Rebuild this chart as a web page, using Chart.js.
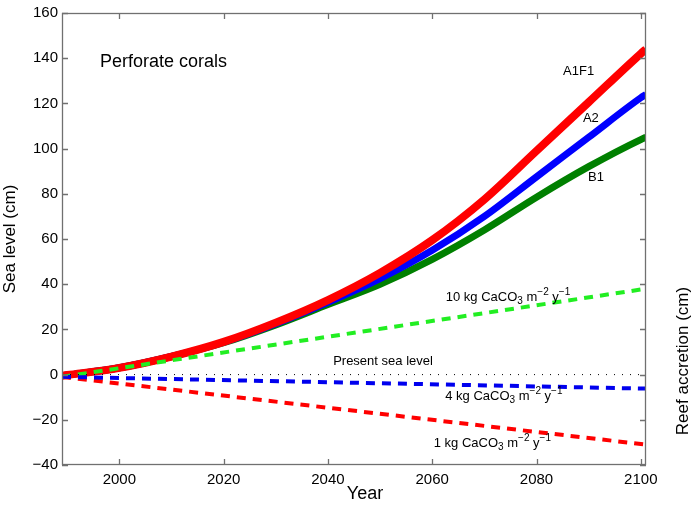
<!DOCTYPE html>
<html>
<head>
<meta charset="utf-8">
<script src="https://cdn.jsdelivr.net/npm/chart.js@4.4.1/dist/chart.umd.min.js"></script>
<style>
  html, body { margin: 0; padding: 0; background: #ffffff; }
  #wrap { width: 694px; height: 507px; }
</style>
</head>
<body>
<div id="wrap"><canvas id="c" width="694" height="507"></canvas></div>
<script>
// ---- data ----
const years      = [1989, 1990, 2000, 2010, 2020, 2030, 2040, 2050, 2060, 2070, 2080, 2090, 2100, 2101];
const seaA1F1    = [-0.5, -0.2, 3, 8, 14.5, 23, 33, 45, 59.5, 77.5, 99, 120.5, 142, 144];
const seaA2      = [-0.5, -0.2, 3, 8, 14.3, 22.5, 32, 42.5, 55, 70, 87.5, 105, 122.5, 124];
const seaB1      = [-0.5, -0.2, 3, 8, 14.1, 22, 31, 40, 51, 64, 78.5, 92, 104, 105];
const accYears   = [1989, 2101];
const acc10kg    = [-1, 38];
const acc4kg     = [-1, -6.2];
const acc1kg     = [-1, -31];
const presentSea = [0, 0];
const xTickValues = [2000, 2020, 2040, 2060, 2080, 2100];
const yTickValues = [-40, -20, 0, 20, 40, 60, 80, 100, 120, 140, 160];

const FONT = '"Liberation Sans", Arial, Helvetica, sans-serif';
const pts = (xs, ys) => xs.map((x, i) => ({ x: x, y: ys[i] }));

const framePlugin = {
  id: 'frameAndText',
  afterDatasetsDraw(chart) {
    const ctx = chart.ctx;
    const a = chart.chartArea;
    const xs = chart.scales.x, ys = chart.scales.y;
    ctx.save();
    // frame
    ctx.strokeStyle = '#707070';
    ctx.lineWidth = 1.3;
    ctx.strokeRect(a.left + 0.5, a.top + 0.5, a.right - a.left - 1, a.bottom - a.top - 1);
    // inner ticks
    const tl = 6;
    ctx.beginPath();
    xTickValues.forEach(v => {
      const px = Math.round(xs.getPixelForValue(v)) + 0.5;
      ctx.moveTo(px, a.bottom); ctx.lineTo(px, a.bottom - tl);
      ctx.moveTo(px, a.top); ctx.lineTo(px, a.top + tl);
    });
    yTickValues.forEach(v => {
      const py = Math.round(ys.getPixelForValue(v)) + 0.5;
      ctx.moveTo(a.left, py); ctx.lineTo(a.left + tl, py);
      ctx.moveTo(a.right, py); ctx.lineTo(a.right - tl, py);
    });
    ctx.stroke();

    // annotations
    ctx.fillStyle = '#000';
    ctx.textBaseline = 'middle';
    ctx.textAlign = 'left';
    const P = (x, y) => [xs.getPixelForValue(x), ys.getPixelForValue(y)];
    const simple = (txt, x, y, size) => {
      const p = P(x, y);
      ctx.font = size + 'px ' + FONT;
      ctx.fillText(txt, p[0], p[1]);
    };
    simple('Perforate corals', 1996.3, 138.3, 18);
    simple('A1F1', 2085.1, 134, 13);
    simple('A2', 2088.9, 113.5, 13);
    simple('B1', 2089.9, 87.4, 13);
    simple('Present sea level', 2041, 5.7, 13);

    const rate = (num, x, y) => {
      const p = P(x, y);
      let cx = p[0];
      const base = p[1];
      const parts = [
        [num + ' kg CaCO', 13, 0],
        ['3', 10, 4],
        [' m', 13, 0],
        ['\u22122', 10, -5],
        [' y', 13, 0],
        ['\u22121', 10, -5]
      ];
      parts.forEach(pt => {
        ctx.font = pt[1] + 'px ' + FONT;
        ctx.fillText(pt[0], cx, base + pt[2]);
        cx += ctx.measureText(pt[0]).width;
      });
    };
    rate('10', 2062.6, 34.3);
    rate('4', 2062.5, -9.6);
    rate('1', 2060.3, -30.4);

    // axis titles
    ctx.textAlign = 'center';
    ctx.font = '18px ' + FONT;
    ctx.fillText('Year', 365, 494);
    ctx.font = '17px ' + FONT;
    ctx.save();
    ctx.translate(10, (a.top + a.bottom) / 2);
    ctx.rotate(-Math.PI / 2);
    ctx.fillText('Sea level (cm)', 0, 0);
    ctx.restore();
    ctx.save();
    ctx.translate(683, 361);
    ctx.rotate(-Math.PI / 2);
    ctx.fillText('Reef accretion (cm)', 0, 0);
    ctx.restore();
    ctx.restore();
  }
};

const solid = (label, data, color, w, order) => ({
  label, data: pts(years, data), borderColor: color, borderWidth: w,
  pointRadius: 0, fill: false, cubicInterpolationMode: 'monotone', order: order,
  borderCapStyle: 'butt'
});
const dashed = (label, data, color, order) => ({
  label, data: pts(accYears, data), borderColor: color, borderWidth: 4,
  borderDash: [9, 7], pointRadius: 0, fill: false, order: order, borderCapStyle: 'butt'
});

new Chart(document.getElementById('c'), {
  type: 'line',
  data: {
    datasets: [
      solid('B1', seaB1, '#008000', 7, 7),
      solid('A2', seaA2, '#0000ff', 7, 6),
      solid('A1F1', seaA1F1, '#ff0000', 8, 5),
      dashed('10 kg', acc10kg, '#22ee22', 3),
      dashed('4 kg', acc4kg, '#0000ee', 2),
      dashed('1 kg', acc1kg, '#ff0000', 4),
      { label: 'Present sea level', data: pts(accYears, presentSea), borderColor: '#000',
        borderWidth: 1, borderDash: [1, 7], pointRadius: 0, fill: false, order: 1 }
    ]
  },
  options: {
    responsive: false,
    animation: false,
    devicePixelRatio: 1,
    layout: { padding: { top: 5, left: 0, right: 0, bottom: 0 } },
    plugins: { legend: { display: false }, tooltip: { enabled: false } },
    scales: {
      x: {
        type: 'linear', min: 1989, max: 2101,
        afterBuildTicks: s => { s.ticks = xTickValues.map(v => ({ value: v })); },
        afterFit: s => { s.height = 42; },
        grid: { display: false, drawTicks: false },
        border: { display: false },
        ticks: { color: '#000', font: { size: 15, family: FONT }, padding: 6, maxRotation: 0,
                 callback: v => String(v) }
      },
      y: {
        type: 'linear', min: -40, max: 160, position: 'left',
        afterBuildTicks: s => { s.ticks = yTickValues.map(v => ({ value: v })); },
        afterFit: s => { s.width = 62; },
        grid: { display: false, drawTicks: false },
        border: { display: false },
        ticks: { color: '#000', font: { size: 15, family: FONT }, padding: 4,
                 callback: v => (v < 0 ? '\u2212' + Math.abs(v) : String(v)) }
      },
      y2: {
        type: 'linear', min: -40, max: 160, position: 'right',
        afterFit: s => { s.width = 48; },
        grid: { display: false, drawTicks: false },
        border: { display: false },
        ticks: { display: false }
      }
    }
  },
  plugins: [framePlugin]
});
</script>
</body>
</html>
